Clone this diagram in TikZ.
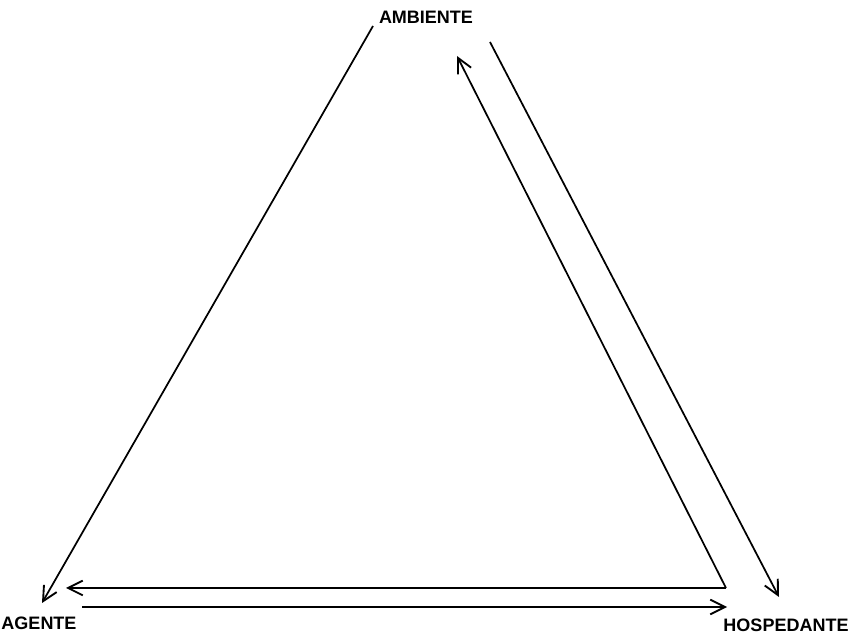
\documentclass[tikz,border=0pt]{standalone}
\usepackage{fontspec}
\setmainfont{Liberation Sans}
\usetikzlibrary{arrows.meta}

\begin{document}
\begin{tikzpicture}[
    x=0.75pt, y=-0.75pt,
    label/.style={inner sep=0pt, font=\fontsize{13.5}{15}\selectfont\bfseries},
    arrow/.style={-{Straight Barb[length=11pt, width=11pt, line width=1.4pt]}, line width=1.3pt}
]
\useasboundingbox (0,0) rectangle (858,634);

\node (ambiente) [label] at (426,17) {AMBIENTE};
\node (agente) [label] at (39,623) {AGENTE};
\node (hospedante) [label] at (786,625) {HOSPEDANTE};

\coordinate (amb-l) at (373,26);
\coordinate (amb-m) at (457,56);
\coordinate (amb-r) at (490,42);
\coordinate (age-t) at (42,603);
\coordinate (age-m) at (66,588);
\coordinate (age-b) at (82,607);
\coordinate (hos-c) at (726,588);
\coordinate (hos-b) at (727,607);
\coordinate (hos-t) at (779,597);

\draw [arrow] (amb-l) -- (age-t);
\draw [arrow] (amb-r) -- (hos-t);
\draw [arrow] (hos-c) -- (amb-m);
\draw [arrow] (hos-c) -- (age-m);
\draw [arrow] (age-b) -- (hos-b);

\end{tikzpicture}
\end{document}
